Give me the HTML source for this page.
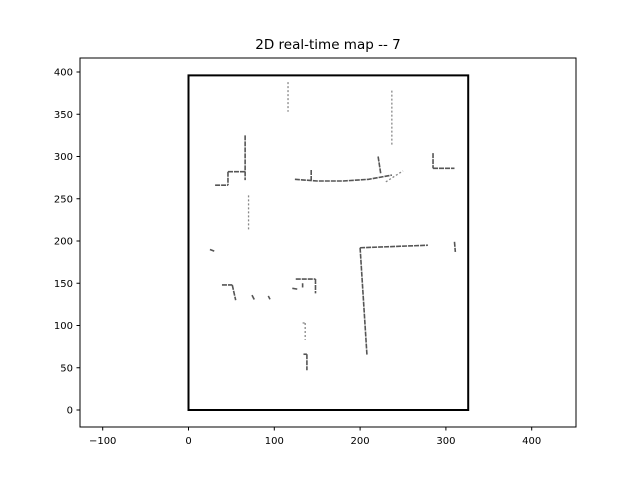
<!DOCTYPE html>
<html><head><meta charset="utf-8"><style>
body{margin:0;background:#fff}
svg{display:block;font-family:"DejaVu Sans","Liberation Sans",sans-serif}
</style></head><body>
<svg id="chart" width="640" height="480" viewBox="0 0 640 480">
<rect width="640" height="480" fill="#fff"/>
<text x="328" y="49" font-size="13.5" text-anchor="middle">2D real-time map -- 7</text>
<g id="plot"></g>
<rect x="80" y="58" width="496" height="369" fill="none" stroke="#000" stroke-width="1"/>
</svg>
<script>
const xTicks=[-100,0,100,200,300,400];
const yTicks=[0,50,100,150,200,250,300,350,400];
const boundary=[[0,0],[326,396]];
const walls=[
[[66,325],[66,272]],[[46,282],[66,282]],[[46,282],[46,266]],[[31,266],[46,266]],
[[124,273],[150,271],[180,271],[210,273],[237,278]],
[[143,284],[143,272]],[[221,300],[224,280]],
[[285,304],[285,286]],[[285,286],[310,286]],
[[200,192],[208,65]],[[200,192],[279,195]],
[[310,199],[311,187]],[[25,190],[30,188]],
[[125,155],[148,155]],[[148,155],[148,138]],[[133,150],[133,145]],
[[121,144],[127,143]],
[[39,148],[51,148]],[[51,148],[55,130]],
[[74,136],[77,130]],[[93,135],[95,131]],
[[134,66],[138,66]],[[138,66],[138,47]]
];
const sparse=[
[[237,378],[237,314]],[[116,388],[116,353]],[[70,254],[70,213]],
[[230,270],[250,283]],[[133,103],[136,103]],[[136,103],[136,83]]
];
const X0=188.5,SX=0.858,Y0=410,SY=0.845;
const xs=v=>X0+v*SX, ys=v=>Y0-v*SY;
const g=document.getElementById('plot');
const NS='http://www.w3.org/2000/svg';
function mk(t,a){const e=document.createElementNS(NS,t);for(const k in a)e.setAttribute(k,a[k]);g.appendChild(e);return e;}
xTicks.forEach(t=>{
 const l=mk('line',{x1:xs(t),x2:xs(t),y1:427,y2:430.5,stroke:'#000'});
 
 
 const tx=mk('text',{x:xs(t),y:444,'font-size':10,'text-anchor':'middle'});
 tx.textContent=String(t).replace('-','\u2212');
 
 
});
yTicks.forEach(t=>{
 const l=mk('line',{x1:76.5,x2:80,y1:ys(t),y2:ys(t),stroke:'#000'});
 
 
 const tx=mk('text',{x:73,y:ys(t)+3.5,'font-size':10,'text-anchor':'end'});
 tx.textContent=t;
 
 
});
const b=mk('rect',{x:xs(boundary[0][0]),y:ys(boundary[1][1]),width:xs(boundary[1][0])-xs(boundary[0][0]),height:ys(boundary[0][1])-ys(boundary[1][1]),fill:'none',stroke:'#000','stroke-width':2});


walls.forEach(w=>{
 const p=mk('polyline',{points:w.map(q=>xs(q[0])+','+ys(q[1])).join(' '),fill:'none',stroke:'#555','stroke-width':1.6,'stroke-dasharray':'5 1'});
 
 
});
sparse.forEach(w=>{
 const p=mk('polyline',{points:w.map(q=>xs(q[0])+','+ys(q[1])).join(' '),fill:'none',stroke:'#888','stroke-width':1.3,'stroke-dasharray':'2 2'});
 
 
});
</script>
</body></html>
